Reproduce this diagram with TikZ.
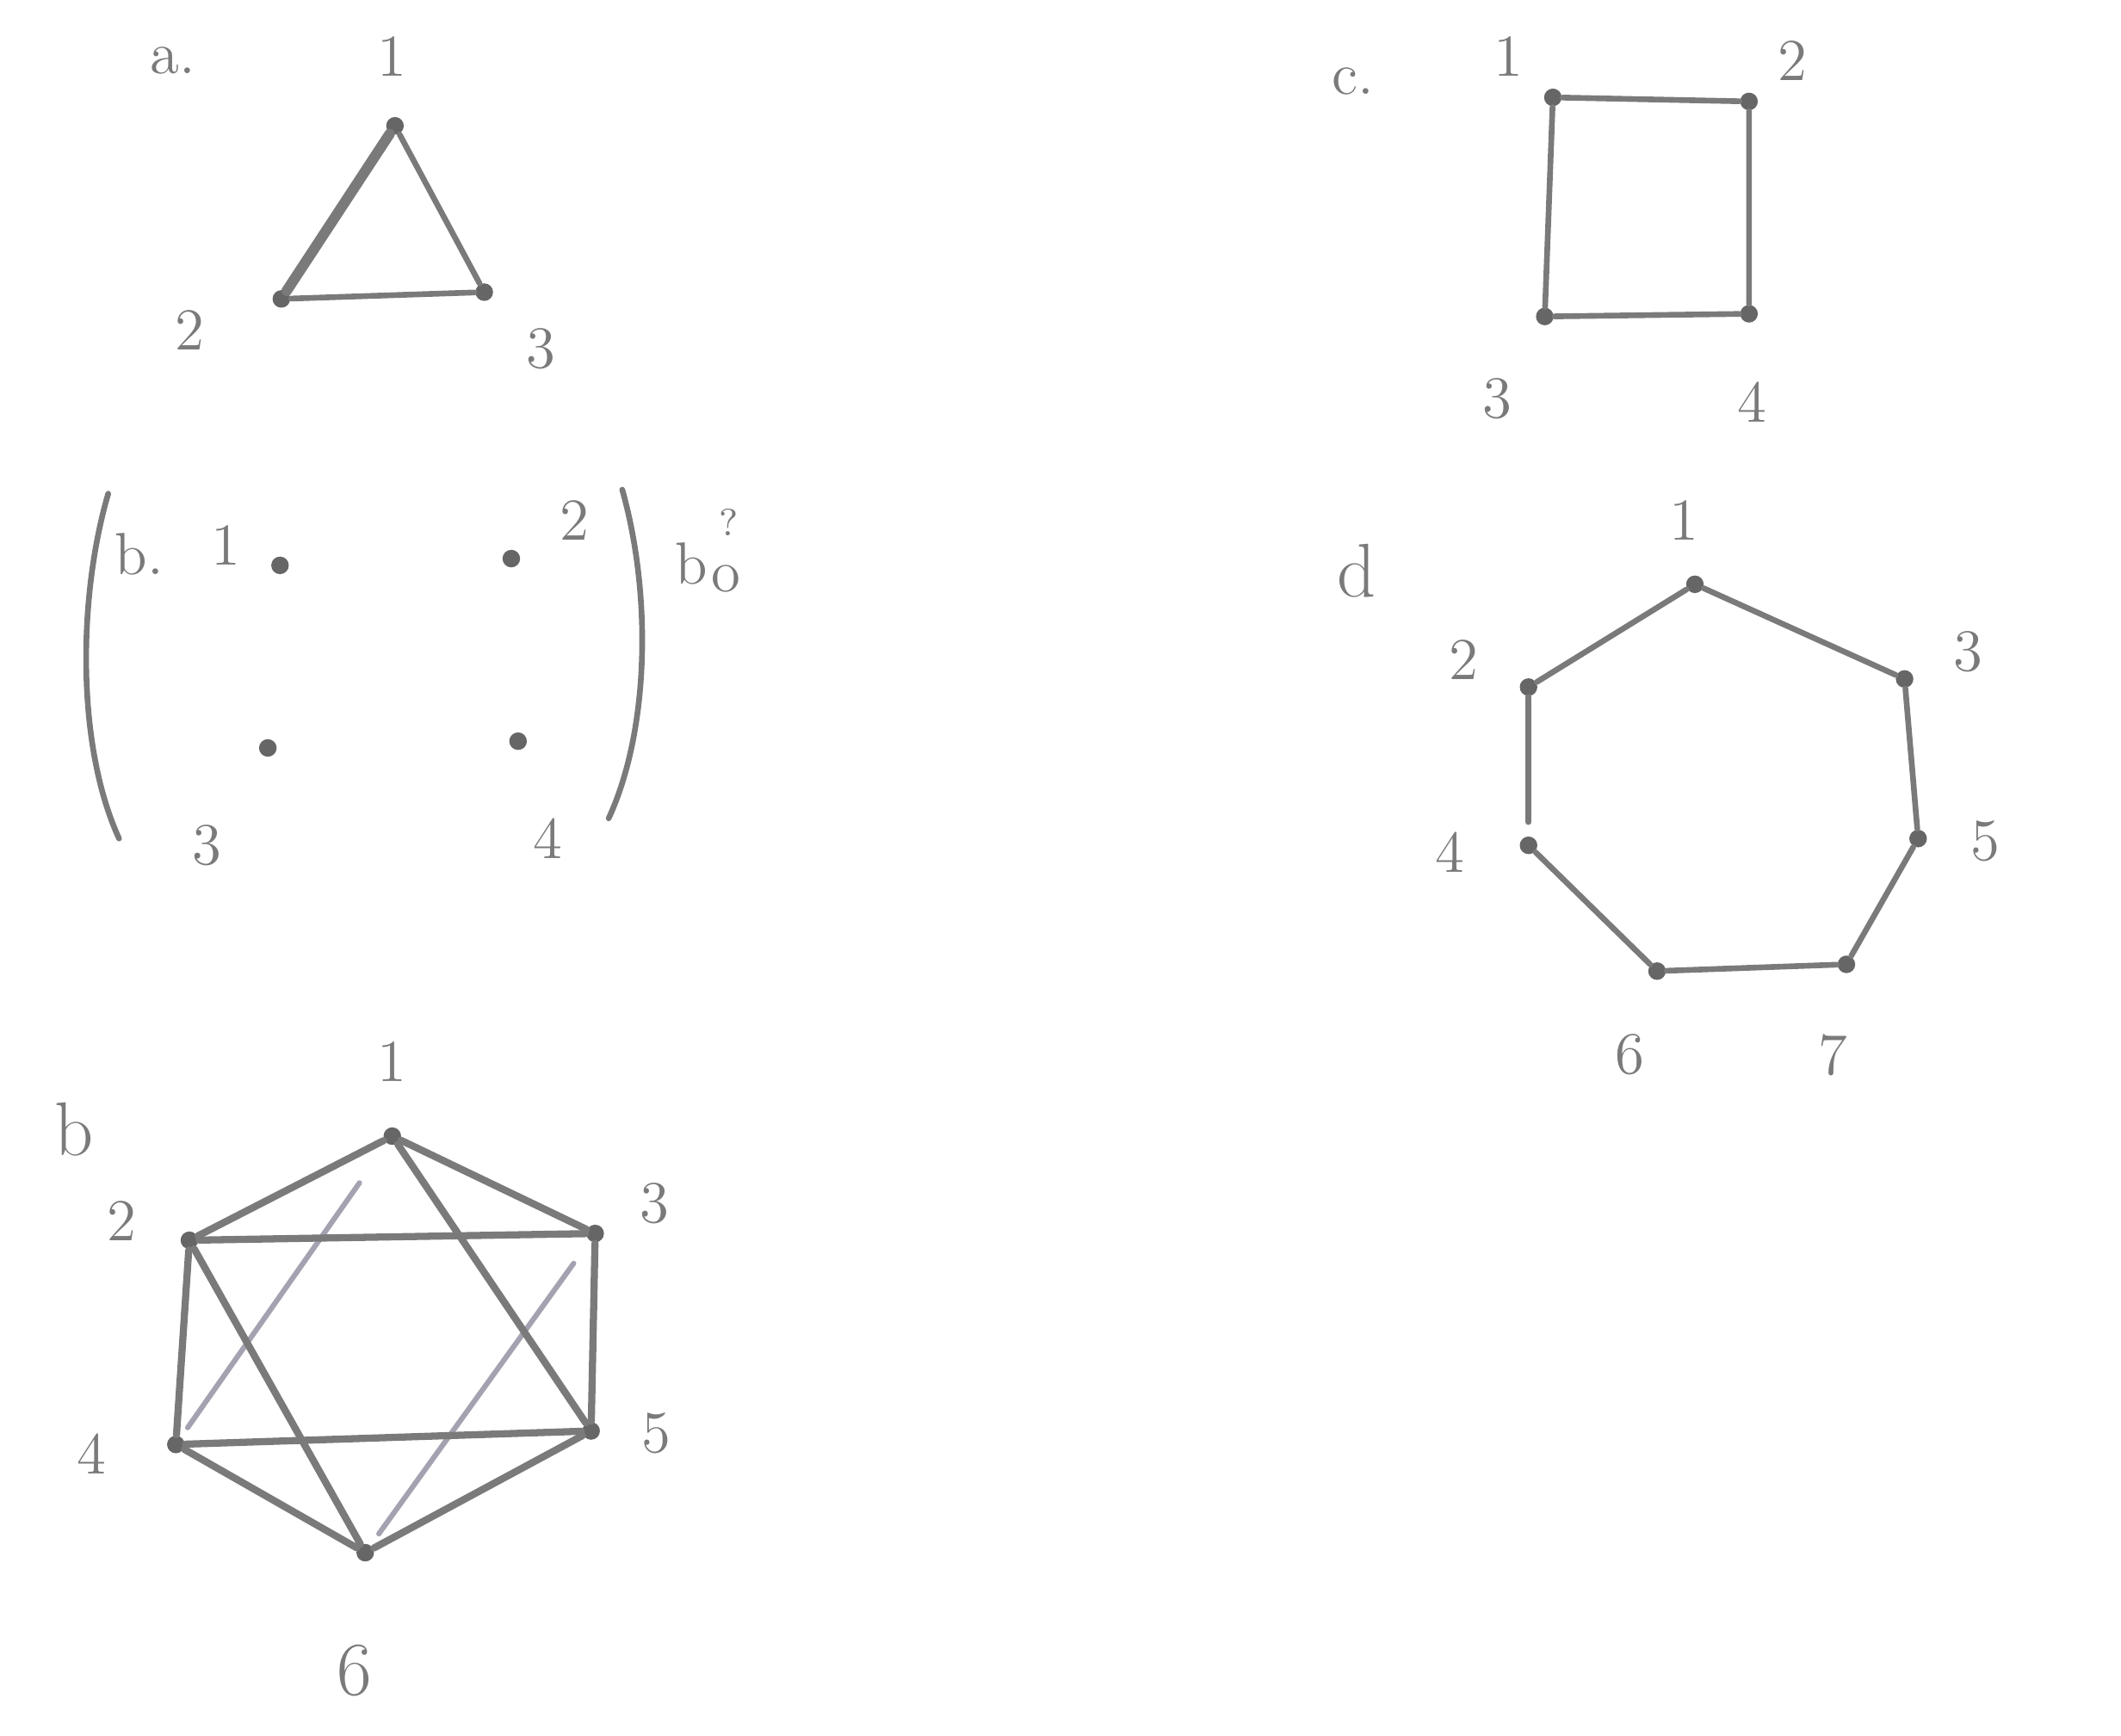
\documentclass[tikz,border=0pt]{standalone}
\definecolor{inkc}{HTML}{7A7A7A}
\definecolor{dotc}{HTML}{666666}
\definecolor{faintc}{HTML}{A4A2B0}
\begin{document}
\begin{tikzpicture}[x=0.1mm,y=-0.1mm,
  ink/.style={draw=inkc, line width=1.2pt, line cap=round, line join=round},
  thickink/.style={draw=inkc, line width=2.2pt, line cap=round},
  faint/.style={draw=faintc, line width=1.1pt, line cap=round},
  vtx/.style={circle, fill=dotc, inner sep=0pt, minimum size=1.3mm},
  lbl/.style={text=inkc, font=\fontsize{12.5}{15}\selectfont, inner sep=0pt},
  smalllbl/.style={text=inkc, font=\fontsize{8}{10}\selectfont, inner sep=0pt},
  biglbl/.style={text=inkc, font=\fontsize{16}{19}\selectfont, inner sep=0pt}]
\useasboundingbox (0,0) rectangle (1568,1283);
\fill[white] (0,0) rectangle (1568,1283);

% ---------- a ----------
\node[lbl] (atitle) at (128,45) {a.};
\node[vtx] (a1) at (292,93) {};
\node[vtx] (a2) at (208,221) {};
\node[vtx] (a3) at (358,216) {};
\node[lbl] (a1l) at (290,42) {1};
\node[lbl] (a2l) at (140,244) {2};
\node[lbl] (a3l) at (400,258) {3};
\draw[thickink] (a1) -- (a2);
\draw[ink] (a1) -- (a3);
\draw[ink] (a2) -- (a3);

% ---------- b. (empty graph) ----------
\node[lbl] (btitle) at (103,410) {b.};
\node[vtx] (e1) at (207,418) {};
\node[vtx] (e2) at (378,413) {};
\node[vtx] (e3) at (198,553) {};
\node[vtx] (e4) at (383,548) {};
\node[lbl] (e1l) at (167,403) {1};
\node[lbl] (e2l) at (425,385) {2};
\node[lbl] (e3l) at (153,625) {3};
\node[lbl] (e4l) at (405,620) {4};
\coordinate (lpt) at (80,365);
\coordinate (lpb) at (88,620);
\coordinate (rpt) at (460,362);
\coordinate (rpb) at (450,605);
\draw[ink] (lpt) .. controls (58,440) and (56,550) .. (lpb);
\draw[ink] (rpt) .. controls (482,440) and (480,540) .. (rpb);
\node[lbl] (bqb) at (511,417) {b};
\node[lbl] (bqo) at (537,428) {o};
\node[smalllbl] (bqq) at (539,386) {?};

% ---------- c ----------
\node[lbl] (ctitle) at (1000,60) {c.};
\node[vtx] (c1) at (1148,72) {};
\node[vtx] (c2) at (1293,75) {};
\node[vtx] (c3) at (1142,234) {};
\node[vtx] (c4) at (1293,232) {};
\node[lbl] (c1l) at (1115,42) {1};
\node[lbl] (c2l) at (1325,45) {2};
\node[lbl] (c3l) at (1107,295) {3};
\node[lbl] (c4l) at (1295,297) {4};
\draw[ink] (c1) -- (c2) -- (c4) -- (c3) -- (c1);

% ---------- d ----------
\node[biglbl] (dtitle) at (1003,422) {d};
\node[vtx] (d1) at (1253,432) {};
\node[vtx] (d2) at (1130,508) {};
\node[vtx] (d3) at (1408,502) {};
\node[vtx] (d4) at (1130,625) {};
\node[vtx] (d5) at (1418,620) {};
\node[vtx] (d6) at (1225,718) {};
\node[vtx] (d7) at (1365,713) {};
\node[lbl] (d1l) at (1245,385) {1};
\node[lbl] (d2l) at (1082,488) {2};
\node[lbl] (d3l) at (1455,482) {3};
\node[lbl] (d4l) at (1072,630) {4};
\node[lbl] (d5l) at (1468,622) {5};
\node[lbl] (d6l) at (1205,780) {6};
\node[lbl] (d7l) at (1355,780) {7};
\draw[ink] (d1) -- (d2);
\draw[ink] (d1) -- (d3);
\draw[ink, shorten >=1mm] (d2) -- (d4);
\draw[ink] (d3) -- (d5);
\draw[ink] (d4) -- (d6);
\draw[ink] (d5) -- (d7);
\draw[ink] (d6) -- (d7);

% ---------- b (K6-like) ----------
\node[biglbl] (ktitle) at (55,835) {b};
\node[vtx] (k1) at (290,840) {};
\node[vtx] (k2) at (140,917) {};
\node[vtx] (k3) at (440,912) {};
\node[vtx] (k4) at (130,1068) {};
\node[vtx] (k5) at (437,1058) {};
\node[vtx] (k6) at (270,1148) {};
\node[lbl] (k1l) at (290,785) {1};
\node[lbl] (k2l) at (90,903) {2};
\node[lbl] (k3l) at (484,890) {3};
\node[lbl] (k4l) at (68,1075) {4};
\node[lbl] (k5l) at (485,1060) {5};
\node[biglbl] (k6l) at (262,1235) {6};
\draw[faint, shorten <=3.5mm, shorten >=0.8mm] (k1) -- (k4);
\draw[faint, shorten <=2mm, shorten >=1mm] (k3) -- (k6);
\draw[ink, line width=1.5pt] (k1) -- (k2);
\draw[ink, line width=1.5pt] (k1) -- (k3);
\draw[ink, line width=1.5pt] (k2) -- (k3);
\draw[ink, line width=1.5pt] (k2) -- (k4);
\draw[ink, line width=1.5pt] (k3) -- (k5);
\draw[ink, line width=1.5pt] (k4) -- (k5);
\draw[ink, line width=1.5pt] (k4) -- (k6);
\draw[ink, line width=1.5pt] (k5) -- (k6);
\draw[ink, line width=1.5pt] (k1) -- (k5);
\draw[ink, line width=1.5pt] (k2) -- (k6);
\end{tikzpicture}
\end{document}
